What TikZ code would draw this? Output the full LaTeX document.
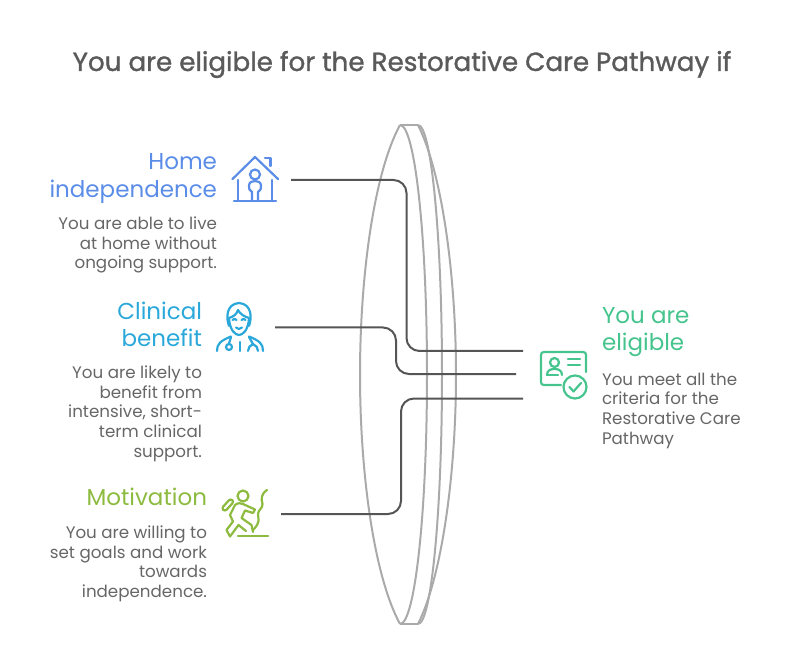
\documentclass[tikz,border=0pt]{standalone}
\usepackage{fontspec}
\setmainfont{Poppins}
\newfontfamily\ttlfont[FakeBold=1.2]{Poppins}
\definecolor{txt}{HTML}{666666}
\definecolor{ttl}{HTML}{5A5A5A}
\definecolor{cb}{HTML}{5B8DE8}
\definecolor{cc}{HTML}{2BA8DA}
\definecolor{cg}{HTML}{8DBB3F}
\definecolor{ct}{HTML}{45C48D}
\definecolor{lens}{HTML}{AAAAAA}
\definecolor{conn}{HTML}{555555}
\tikzset{
 x=1pt,y=-1pt,
 head/.style={font=\fontsize{23}{27.5}\selectfont,align=right,anchor=north east,inner sep=0,outer sep=0},
 body/.style={font=\fontsize{16.7}{19.6}\selectfont,text=txt,align=right,anchor=north east,inner sep=0,outer sep=0},
 lensline/.style={draw=lens,line width=2pt},
 link/.style={draw=conn,line width=2pt,rounded corners=13pt},
 ico/.style={line width=2.2pt,line cap=round,line join=round},
}
\begin{document}
\begin{tikzpicture}
\useasboundingbox (0,0) rectangle (804,647);
\node[inner sep=0,font=\fontsize{26.2}{30}\selectfont\ttlfont,text=ttl] (title) at (402,64.5) {You are eligible for the Restorative Care Pathway if};
% lens
\draw[lensline] (400,125) .. controls (373,175) and (360,280) .. (360,374.5) .. controls (360,469) and (373,574) .. (400,624);
\draw[lensline] (400,125) arc[start angle=-90,end angle=90,x radius=27,y radius=249.5];
\draw[lensline] (418,125) arc[start angle=-90,end angle=90,x radius=24,y radius=249.5];
\draw[lensline] (418,125) .. controls (443,175) and (456,280) .. (456,374.5) .. controls (456,469) and (443,574) .. (418,624);
\draw[lensline] (400,125) -- (418,125);
\draw[lensline] (400,624) -- (418,624);
% connector ends
\coordinate (h) at (291,180); \coordinate (hb) at (406.5,180); \coordinate (hc) at (406.5,351); \coordinate (he) at (523,351);
\coordinate (c) at (275,327.5); \coordinate (cb1) at (396,327.5); \coordinate (cc1) at (396,374); \coordinate (ce) at (516,374);
\coordinate (m) at (281,514); \coordinate (mb) at (401,514); \coordinate (mc) at (401,398.5); \coordinate (me) at (523,398.5);
\draw[link] (h) -- (hb) -- (hc) -- (he);
\draw[link] (c) -- (cb1) -- (cc1) -- (ce);
\draw[link] (m) -- (mb) -- (mc) -- (me);
% left text
\node[head,text=cb] (t1) at (217,153.5) {Home\\independence};
\node[body] (b1) at (217,217) {You are able to live\\at home without\\ongoing support.};
\node[head,text=cc] (t2) at (202,301.5) {Clinical\\benefit};
\node[body] (b2) at (202,366) {You are likely to\\benefit from\\intensive, short-\\term clinical\\support.};
\node[head,text=cg] (t3) at (207,487.5) {Motivation};
\node[body] (b3) at (207,526) {You are willing to\\set goals and work\\towards\\independence.};
% right text
\node[head,text=ct,align=left,anchor=north west] (t4) at (602,307) {You are\\eligible};
\node[body,align=left,anchor=north west] (b4) at (602,373) {You meet all the\\criteria for the\\Restorative Care\\Pathway};
% house icon
\begin{scope}[ico]
\draw[cb] (232.5,179) -- (255,157) -- (278,179);
\draw[cb] (265,158) -- (270.5,158) -- (270.5,166);
\draw[cb] (234,201) -- (276,201);
\draw[cb] (238,180) -- (238,200) (272,180) -- (272,200);
\draw[cb] (255,174.5) circle[radius=5];
\draw[cb] (252,200) -- (252,192) .. controls (249,191) and (249,188) .. (249,186) .. controls (249,182) and (252,181) .. (255,181) .. controls (258,181) and (261,182) .. (261,186) .. controls (261,188) and (261,191) .. (258,192) -- (258,200);
\end{scope}
% doctor icon
\begin{scope}[ico]
\draw[cc] (229,326) .. controls (226,318) and (226,304) .. (239,303) .. controls (252,304) and (252,318) .. (249,326);
\draw[cc] (229,319) .. controls (230,330) and (235,335) .. (239,335) .. controls (243,335) and (248,330) .. (249,319);
\draw[cc] (229,318) .. controls (233,317) and (237,314) .. (238,310) .. controls (240,314) and (245,317) .. (249,318);
\draw[cc] (232.5,320) .. controls (233.5,318.5) and (235.5,318.5) .. (236.5,320);
\draw[cc] (241.5,320) .. controls (242.5,318.5) and (244.5,318.5) .. (245.5,320);
\draw[cc] (236,327.5) .. controls (237.5,329.5) and (240.5,329.5) .. (242,327.5);
\draw[cc] (217,351) .. controls (217,344) and (220,341) .. (231,336.5);
\draw[cc] (249,336.5) .. controls (260,341) and (263,344) .. (263,351);
\draw[cc] (231,337) -- (229,343.5);
\draw[cc] (229,347) circle[radius=3];
\draw[cc] (240,342) -- (240,351);
\draw[cc] (249,337) -- (253,344) .. controls (250,345) and (248,348) .. (248,351);
\draw[cc] (253,344) .. controls (256,345) and (258,348) .. (258,351);
\end{scope}
% climber icon
\begin{scope}[ico]
\draw[cg] (243,496) circle[radius=5.5];
\draw[cg,rounded corners=2.5pt] (221.5,508.5) -- (230.5,498.5) -- (234,501.5) -- (225,511.5) -- cycle;
\draw[cg] (235,505) -- (230,515) -- (233,521.5) -- (226.5,530) -- (230,536.5);
\draw[cg] (235,505) .. controls (238,502.5) and (241,503) .. (243,504) -- (255,509.5) -- (253,513) -- (245,510.5) -- (241.5,518) -- (251.5,525) -- (253,532);
\draw[cg] (230,536.5) -- (238.5,525) -- (246,531);
\draw[cg] (267,490) .. controls (261,494) and (261,499) .. (262.5,504) .. controls (263,508) and (258,510) .. (258,514) .. controls (258,519) and (261,522) .. (253,530);
\draw[cg] (238,536) -- (268,536);
\end{scope}
% certificate icon
\begin{scope}[ico]
\draw[ct] (561,385) -- (544,385) .. controls (542,385) and (541,384) .. (541,382) -- (541,355) .. controls (541,353) and (542,352) .. (544,352) -- (583,352) .. controls (585,352) and (586,353) .. (586,355) -- (586,372);
\draw[ct] (554.5,362.5) circle[radius=4.5];
\draw[ct] (547,375) .. controls (547,370) and (551,369) .. (554.5,369) .. controls (558,369) and (562,370) .. (562,375);
\draw[ct] (547,375) -- (558,375);
\draw[ct] (568,359) -- (580,359) (568,365) -- (580,365);
\draw[ct] (575,387) circle[radius=11.5];
\draw[ct] (569.5,387) -- (573.5,391.5) -- (581,383);
\end{scope}
\end{tikzpicture}
\end{document}
